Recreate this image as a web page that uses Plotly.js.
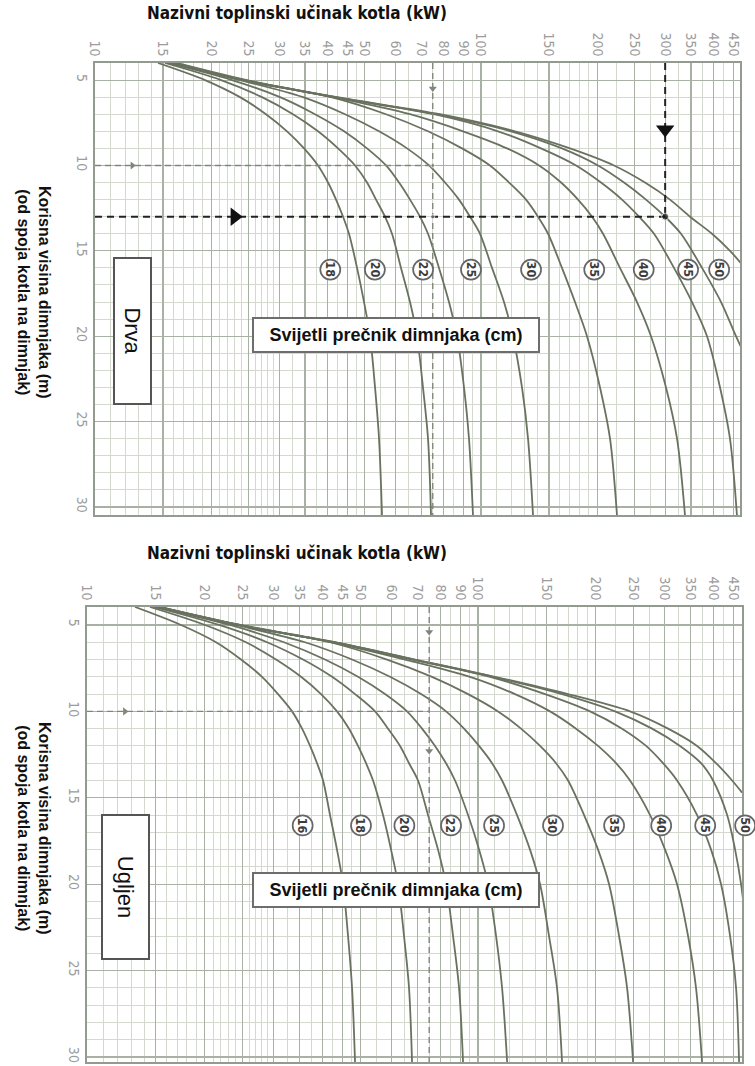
<!DOCTYPE html>
<html><head><meta charset="utf-8">
<script src="https://cdn.plot.ly/plotly-3.0.1.min.js"></script>
<style>html,body{margin:0;padding:0;background:#fff;}#chart{width:755px;height:1066px;}</style>
</head><body><div id="chart"></div>
<script>
// ---------- data ----------
const kwTicks = [10,15,20,25,30,35,40,45,50,60,70,80,90,100,150,200,250,300,350,400,450];
const kwTickText = kwTicks.map(String);
const kwMinor = [11,12,13,14,16,17,18,19,21,22,23,24,26,27,28,29,32.5,37.5,42.5,47.5,55,65,75,85,95,110,120,130,140,160,170,180,190,225,275,325,375,425];
const heightTicks = [5,10,15,20,25,30];

// Drva (wood): chimney diameter curves, useful height (m) vs boiler output (kW)
const drvaDiam = [18,20,22,25,30,35,40,45,50];
const drvaHeights = [4,5,6,7,8,9,10,11,12,13,14,16,18,20,23,26,30.5];
const drvaH45 = [4,5,6,7,8,9,10,11,12,13,14,16,18,20,21];
const drvaH50 = [4,5,6,7,8,9,10,11,12,13,14,15,16];
const drvaKw18 = [14.56,19.27,23.75,27.73,31.44,34.80,37.82,40.15,42.12,43.91,45.50,47.74,49.77,51.58,53.15,54.43,55.41];
const drvaKw20 = [15.18,21.21,27.08,32.58,37.82,42.62,47.17,50.67,53.46,56.41,58.81,62.05,65.48,68.27,70.74,72.90,74.22];
const drvaKw22 = [15.46,22.64,30.16,37.14,44.18,50.67,56.75,61.33,65.48,69.50,72.90,77.84,82.62,86.65,90.36,93.09,95.35];
const drvaKw25 = [15.65,23.75,34.59,44.44,54.43,64.32,73.34,80.67,87.70,93.65,99.40,106.8,114.7,121.0,127.7,132.4,136.4];
const drvaKw30 = [15.84,24.04,40.88,56.75,72.90,89.30,105.5,118.2,130.8,140.5,149.2,162.1,175.2,188.2,203.4,215.9,225.1];
const drvaKw35 = [15.93,24.18,41.37,65.48,89.83,116.8,141.4,161.2,178.4,194.0,207.1,229.1,253.6,275.7,301.5,322.0,337.7];
const drvaKw40 = [16.02,24.32,41.62,75.53,110.7,143.0,176.3,204.6,231.9,256.7,280.7,316.2,352.1,385.1,416.2,441.6,460.4];
const drvaKw45 = [16.12,24.47,41.87,76.44,119.6,162.1,201.0,234.7,267.6,299.8,329.7,373.8,418.7,457.7,480];
const drvaKw50 = [16.31,24.76,42.37,78.29,122.5,170.1,221.1,266.0,308.8,347.9,396.7,441.7,483];
const drvaLabelKw = [40.7,53.1,70.8,94.2,134.8,196.5,264,344,414];
const drvaLabelH = 16.1;

// Ugljen (coal)
const ugljenDiam = [16,18,20,22,25,30,35,40,45,50];
const ugljenHeights = [3.96,5,6,7,8,9,10,11,12,13,14,16,18,20,23,26,30.3];
const ugljenH45 = [3.96,5,6,7,8,9,10,11,12,13,14,16,18,20,22];
const ugljenH50 = [3.96,5,6,7,8,9,10,11,12,13,14,14.7];
const ugljenKw16 = [13.27,17.40,21.38,24.77,28.03,30.80,33.45,35.48,37.19,38.75,40.15,41.83,43.58,45.15,46.51,47.62,48.47];
const ugljenKw18 = [14.49,20.04,25.50,30.44,35.26,39.67,43.59,46.78,49.33,51.71,53.89,57.15,59.91,62.43,64.67,66.60,67.80];
const ugljenKw20 = [14.84,21.76,28.87,35.68,42.33,48.47,54.53,58.86,63.17,66.60,70.23,74.49,79.01,82.83,86.32,89.42,91.55];
const ugljenKw22 = [15.02,23.21,31.90,40.61,49.33,57.82,65.83,71.90,77.62,82.83,87.34,94.28,100.6,106.1,111.2,115.2,118.7];
const ugljenKw25 = [15.10,24.05,36.10,47.62,59.55,71.49,82.83,92.08,100.6,108.6,115.2,125.8,135.8,144.1,151.9,159.2,164.0];
const ugljenKw30 = [15.19,24.19,41.83,58.51,76.28,94.28,112.5,128.8,144.1,158.3,169.9,186.7,202.7,216.3,229.4,240.5,249.2];
const ugljenKw35 = [15.28,24.33,42.33,65.06,95.39,124.3,152.8,178.1,202.7,225.4,244.7,275.4,300.8,322.8,344.4,360.9,374.0];
const ugljenKw40 = [15.28,24.48,42.58,67.80,107.3,148.4,193.4,233.5,269.0,297.2,322.8,363.2,394.4,418.3,441.1,456.9,465.1];
const ugljenKw45 = [15.37,24.62,42.82,68.60,109.2,164.0,224.1,278.6,328.5,371.8,399.0,433.5,454.3,470.6,481.9];
const ugljenKw50 = [15.37,24.62,43.07,69.01,110.5,169.9,244.7,306.1,363.2,406.2,446.3,473.4];
const ugljenLabelKw = [35.6,50.2,64.8,85.3,109.9,155.5,222.8,294,381,482];
const ugljenLabelH = 16.6;

// worked examples (kW, height m)
const exampleLightKw = 75, exampleLightH = 10;
const exampleBoldKw = 300, exampleBoldH = 13;
const arrowDrvaH = 7.9, arrowDrvaKw = 23;
const smallArrowKw = 12.5, smallArrowDrvaH = [5.5], smallArrowUgljenH = [5.4, 12.3];

// ---------- assemble ----------
const drvaH = [drvaHeights,drvaHeights,drvaHeights,drvaHeights,drvaHeights,drvaHeights,drvaHeights,drvaH45,drvaH50];
const drvaKw = [drvaKw18,drvaKw20,drvaKw22,drvaKw25,drvaKw30,drvaKw35,drvaKw40,drvaKw45,drvaKw50];
const ugljenH = [ugljenHeights,ugljenHeights,ugljenHeights,ugljenHeights,ugljenHeights,ugljenHeights,ugljenHeights,ugljenHeights,ugljenH45,ugljenH50];
const ugljenKw = [ugljenKw16,ugljenKw18,ugljenKw20,ugljenKw22,ugljenKw25,ugljenKw30,ugljenKw35,ugljenKw40,ugljenKw45,ugljenKw50];

const W = 755, H = 1066;
const pTop = {x:'x', y:'y', xd:[95/W, 740/W], yd:[1-515/H, 1-63/H], xr:[1, 2.671], yr:[30.47, 4.0]};
const pBot = {x:'x2', y:'y2', xd:[87/W, 742/W], yd:[1-1062/H, 1-607/H], xr:[1, 2.675], yr:[30.29, 3.96]};

const curveColor = '#69725f';
const traces = [];
const annotations = [];
const shapes = [];
const narrow = 'Liberation Sans Narrow, DejaVu Sans Condensed, sans-serif';

function kw2paperX(kw, p){ return p.xd[0] + (Math.log10(kw)-p.xr[0])/(p.xr[1]-p.xr[0])*(p.xd[1]-p.xd[0]); }
function h2paperY(h, p){ return p.yd[0] + (h-p.yr[0])/(p.yr[1]-p.yr[0])*(p.yd[1]-p.yd[0]); }

function addChart(p, diam, hs, kws, labelKw, labelH){
  diam.forEach((d,i)=>{
    traces.push({type:'scatter', mode:'lines', x:kws[i], y:hs[i], xaxis:p.x, yaxis:p.y,
      line:{color:curveColor, width:1.8, shape:'spline', smoothing:0.9}, hoverinfo:'skip', showlegend:false});
  });
  labelKw.forEach((kw,i)=>{
    const px = kw2paperX(kw,p), py = h2paperY(labelH,p);
    shapes.push({type:'circle', xref:'paper', yref:'paper', xsizemode:'pixel', ysizemode:'pixel',
      xanchor:px, yanchor:py, x0:-10, x1:10, y0:-10, y1:10,
      fillcolor:'#ffffff', line:{color:'#666666', width:1.7}, layer:'above'});
    annotations.push({xref:'paper', yref:'paper', x:px, y:py,
      text:String(diam[i]), showarrow:false, textangle:90,
      font:{family:narrow, size:12.5, color:'#3c3c3c', weight:'bold'}, xanchor:'center', yanchor:'middle'});
  });
}

function axisX(p, anchor){
  return {type:'log', range:p.xr, domain:p.xd, anchor:anchor, side:'top',
    tickmode:'array', tickvals:kwTicks, ticktext:kwTickText, tickangle:90,
    tickfont:{family:narrow, size:14, color:'#9c9c9c'},
    ticks:'', showgrid:true, gridcolor:'#a9b1a4', gridwidth:1.1,
    minor:{tickmode:'array', tickvals:kwMinor, showgrid:true, gridcolor:'#d4d9d0', gridwidth:1, ticks:''},
    showline:true, linecolor:'#939a8f', linewidth:1.6, mirror:true, zeroline:false, fixedrange:true};
}
function axisY(p, anchor){
  return {range:p.yr, domain:p.yd, anchor:anchor,
    tickmode:'array', tickvals:heightTicks, ticktext:heightTicks.map(String), tickangle:90,
    tickfont:{family:narrow, size:14, color:'#9c9c9c'},
    ticks:'', showgrid:true, gridcolor:'#a9b1a4', gridwidth:1.1,
    minor:{dtick:1, tick0:0, showgrid:true, gridcolor:'#d4d9d0', gridwidth:1, ticks:''},
    showline:true, linecolor:'#939a8f', linewidth:1.6, mirror:true, zeroline:false, fixedrange:true};
}

addChart(pTop, drvaDiam, drvaH, drvaKw, drvaLabelKw, drvaLabelH);
addChart(pBot, ugljenDiam, ugljenH, ugljenKw, ugljenLabelKw, ugljenLabelH);

function lightGuides(p, arrowHs){
  const xmin = Math.pow(10,p.xr[0]);
  traces.push({type:'scatter', mode:'lines', x:[xmin, exampleLightKw], y:[exampleLightH, exampleLightH], xaxis:p.x, yaxis:p.y,
    line:{color:'#80867c', width:1.4, dash:'6px,4px'}, hoverinfo:'skip', showlegend:false});
  traces.push({type:'scatter', mode:'lines', x:[exampleLightKw, exampleLightKw], y:[p.yr[1], p.yr[0]], xaxis:p.x, yaxis:p.y,
    line:{color:'#80867c', width:1.4, dash:'6px,4px'}, hoverinfo:'skip', showlegend:false});
  traces.push({type:'scatter', mode:'markers', x:[smallArrowKw], y:[exampleLightH], xaxis:p.x, yaxis:p.y,
    marker:{symbol:'triangle-right', size:7, color:'#80867c'}, hoverinfo:'skip', showlegend:false});
  traces.push({type:'scatter', mode:'markers', x:arrowHs.map(()=>exampleLightKw), y:arrowHs, xaxis:p.x, yaxis:p.y,
    marker:{symbol:'triangle-down', size:7, color:'#80867c'}, hoverinfo:'skip', showlegend:false});
}
lightGuides(pTop, smallArrowDrvaH);
lightGuides(pBot, smallArrowUgljenH);

traces.push({type:'scatter', mode:'lines', x:[10, exampleBoldKw], y:[exampleBoldH, exampleBoldH], xaxis:'x', yaxis:'y',
  line:{color:'#222', width:2, dash:'7px,5px'}, hoverinfo:'skip', showlegend:false});
traces.push({type:'scatter', mode:'lines', x:[exampleBoldKw, exampleBoldKw], y:[pTop.yr[1], exampleBoldH], xaxis:'x', yaxis:'y',
  line:{color:'#222', width:2, dash:'7px,5px'}, hoverinfo:'skip', showlegend:false});
traces.push({type:'scatter', mode:'markers', x:[arrowDrvaKw], y:[exampleBoldH], xaxis:'x', yaxis:'y',
  marker:{symbol:'triangle-right', size:16, color:'#111'}, hoverinfo:'skip', showlegend:false});
traces.push({type:'scatter', mode:'markers', x:[exampleBoldKw], y:[arrowDrvaH], xaxis:'x', yaxis:'y',
  marker:{symbol:'triangle-down', size:16, color:'#111'}, hoverinfo:'skip', showlegend:false});
traces.push({type:'scatter', mode:'markers', x:[exampleBoldKw, exampleLightKw, exampleLightKw], y:[exampleBoldH, exampleLightH, exampleBoldH], xaxis:'x', yaxis:'y',
  marker:{symbol:'circle', size:[7,4,4], color:['#111','#80867c','#80867c']}, hoverinfo:'skip', showlegend:false});

const titleText = 'Nazivni toplinski učinak kotla (kW)';
const yTitle = 'Korisna visina dimnjaka (m)<br>(od spoja kotla na dimnjak)';
const boxText = 'Svijetli prečnik dimnjaka (cm)';
const titleFont = {family:narrow, size:17, color:'#111', weight:'bold'};
const yTitleFont = {family:'Liberation Sans, Arial, sans-serif', size:16, color:'#111', weight:'bold'};
const boxFont = {family:'Liberation Sans, Arial, sans-serif', size:18, color:'#111', weight:'bold'};

[[297, 13],[297, 553]].forEach(([cx,cy])=>{
  annotations.push({xref:'paper', yref:'paper', x:cx/W, y:1-cy/H, text:titleText, showarrow:false, font:titleFont, xanchor:'center', yanchor:'middle'});
});
[[34, 292],[34, 828]].forEach(([cx,cy])=>{
  annotations.push({xref:'paper', yref:'paper', x:cx/W, y:1-cy/H, text:yTitle, showarrow:false, textangle:90, font:yTitleFont, xanchor:'center', yanchor:'middle'});
});
[[396, 335],[396, 890]].forEach(([cx,cy])=>{
  annotations.push({xref:'paper', yref:'paper', x:cx/W, y:1-cy/H, text:boxText, showarrow:false, font:boxFont,
    bgcolor:'#ffffff', bordercolor:'#6d6d6d', borderwidth:2, borderpad:3, width:278, height:26, xanchor:'center', yanchor:'middle'});
});
annotations.push({xref:'paper', yref:'paper', x:133/W, y:1-331/H, text:'Drva', showarrow:false, textangle:90,
  font:{family:'Liberation Sans, Arial, sans-serif', size:22, color:'#111'}, bgcolor:'#ffffff', bordercolor:'#555', borderwidth:2, borderpad:2, width:140, height:31, xanchor:'center', yanchor:'middle'});
annotations.push({xref:'paper', yref:'paper', x:126/W, y:1-887/H, text:'Ugljen', showarrow:false, textangle:90,
  font:{family:'Liberation Sans, Arial, sans-serif', size:22, color:'#111'}, bgcolor:'#ffffff', bordercolor:'#555', borderwidth:2, borderpad:2, width:138, height:41, xanchor:'center', yanchor:'middle'});

const layout = {
  width:W, height:H, margin:{l:0,r:0,t:0,b:0}, paper_bgcolor:'#ffffff', plot_bgcolor:'#ffffff',
  showlegend:false,
  xaxis: axisX(pTop,'y'), yaxis: axisY(pTop,'x'),
  xaxis2: axisX(pBot,'y2'), yaxis2: axisY(pBot,'x2'),
  annotations: annotations, shapes: shapes
};
Plotly.newPlot('chart', traces, layout, {staticPlot:true, displayModeBar:false});
</script></body></html>
